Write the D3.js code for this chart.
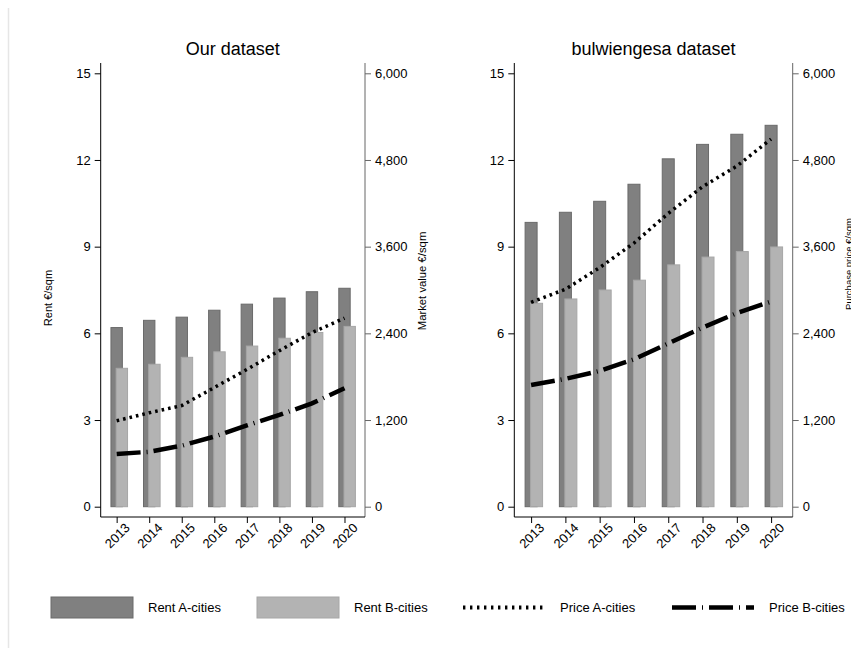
<!DOCTYPE html>
<html>
<head>
<meta charset="utf-8">
<script src="https://cdn.jsdelivr.net/npm/d3@7"></script>
<style>
  body { margin: 0; padding: 0; background: #fff; overflow: hidden; }
  text { font-family: "Liberation Sans", Arial, sans-serif; fill: #000; }
</style>
</head>
<body>
<script>
// data
const years = [2013, 2014, 2015, 2016, 2017, 2018, 2019, 2020];

const ourRentA = [6.20, 6.45, 6.56, 6.80, 7.01, 7.22, 7.44, 7.56];
const ourRentB = [4.79, 4.93, 5.17, 5.36, 5.56, 5.83, 6.03, 6.24];
const ourPriceA = [1190, 1300, 1400, 1650, 1900, 2160, 2410, 2610];
const ourPriceB = [730, 760, 845, 970, 1125, 1270, 1430, 1640];

const bwgRentA = [9.84, 10.19, 10.57, 11.16, 12.04, 12.54, 12.89, 13.20];
const bwgRentB = [7.04, 7.19, 7.50, 7.84, 8.37, 8.64, 8.83, 8.99];
const bwgPriceA = [2830, 3010, 3310, 3650, 4060, 4430, 4715, 5090];
const bwgPriceB = [1685, 1770, 1880, 2040, 2260, 2480, 2680, 2840];

const rentTicks = [0, 3, 6, 9, 12, 15];
const priceTicks = [0, 1200, 2400, 3600, 4800, 6000];

const legendLabels = ["Rent A-cities", "Rent B-cities", "Price A-cities", "Price B-cities"];

const W = 851, H = 648;
const colA = "#808080", colB = "#b3b3b3";
const dotDash = "2.6,4", dashDot = "24,6,1,6";

const svg = d3.select("body").append("svg").attr("width", W).attr("height", H);

svg.append("line").attr("x1", 8.5).attr("x2", 8.5).attr("y1", 8).attr("y2", H)
  .attr("stroke", "#e6e6e6").attr("stroke-width", 1.5);

const panels = [
  {title: "Our dataset", left: 100.7, right: 365, rentA: ourRentA, rentB: ourRentB,
   priceA: ourPriceA, priceB: ourPriceB, leftTitle: "Rent €/sqm",
   rightTitle: "Market value €/sqm", rtX: 426, rtY: 281, rtSize: 11.3},
  {title: "bulwiengesa dataset", left: 514.3, right: 792.7, rentA: bwgRentA, rentB: bwgRentB,
   priceA: bwgPriceA, priceB: bwgPriceB, leftTitle: null,
   rightTitle: "Purchase price €/sqm", rtX: 851.5, rtY: 264, rtSize: 9.5}
];

const yTop = 63, yBot = 517;
const yRent = d3.scaleLinear().domain([0, 15]).range([506.7, 73.3]);
const yPrice = d3.scaleLinear().domain([0, 6000]).range([506.7, 73.3]);

panels.forEach(p => {
  const x = d3.scaleLinear().domain([2012.51, 2020.63]).range([p.left, p.right]);
  const step = x(2014) - x(2013);
  const bw = 0.35 * step, off = 0.16 * step;
  const g = svg.append("g");

  // bars A then B (B overlaps)
  g.selectAll(".barA").data(years).join("rect")
    .attr("x", (d) => x(d) - bw / 2)
    .attr("y", (d, i) => yRent(p.rentA[i]))
    .attr("width", bw)
    .attr("height", (d, i) => yRent(0) - yRent(p.rentA[i]))
    .attr("fill", colA).attr("stroke", "#6a6a6a").attr("stroke-width", 1);

  g.selectAll(".barB").data(years).join("rect")
    .attr("x", (d) => x(d) - bw / 2 + off)
    .attr("y", (d, i) => yRent(p.rentB[i]))
    .attr("width", bw)
    .attr("height", (d, i) => yRent(0) - yRent(p.rentB[i]))
    .attr("fill", colB).attr("stroke", "#a6a6a6").attr("stroke-width", 1);

  const line = (vals) => d3.line().x((d) => x(d)).y((d, i) => yPrice(vals[i]))(years);

  g.append("path").attr("d", line(p.priceA)).attr("fill", "none")
    .attr("stroke", "#000").attr("stroke-width", 3.5).attr("stroke-dasharray", dotDash);
  g.append("path").attr("d", line(p.priceB)).attr("fill", "none")
    .attr("stroke", "#000").attr("stroke-width", 4.5).attr("stroke-dasharray", dashDot);

  // axes
  const la = g.append("g").attr("transform", `translate(${p.left},0)`)
    .call(d3.axisLeft(yRent).tickValues(rentTicks).tickSize(6).tickPadding(4));
  const ra = g.append("g").attr("transform", `translate(${p.right},0)`)
    .call(d3.axisRight(yPrice).tickValues(priceTicks).tickSize(6).tickPadding(4).tickFormat(d3.format(",")));
  const ba = g.append("g").attr("transform", `translate(0,${yBot})`)
    .call(d3.axisBottom(x).tickValues(years).tickSize(6).tickFormat(d3.format("d")));

  [la, ra, ba].forEach(a => {
    a.select(".domain").remove();
    a.attr("font-size", 13).attr("font-family", "'Liberation Sans', Arial, sans-serif");
  });
  la.selectAll("line").attr("stroke", "#000");
  ra.selectAll("line").attr("stroke", "#666");
  ba.selectAll("line").attr("stroke", "#000");
  ba.selectAll("text").attr("text-anchor", "end")
    .attr("transform", "translate(4,2) rotate(-45)").attr("dy", "0.35em").attr("y", 9).attr("x", 0);

  g.append("line").attr("x1", p.left).attr("x2", p.left).attr("y1", yTop).attr("y2", yBot).attr("stroke", "#000");
  g.append("line").attr("x1", p.right).attr("x2", p.right).attr("y1", yTop).attr("y2", yBot).attr("stroke", "#666");
  g.append("line").attr("x1", p.left).attr("x2", p.right).attr("y1", yBot).attr("y2", yBot).attr("stroke", "#000");

  g.append("text").attr("x", (p.left + p.right) / 2).attr("y", 55)
    .attr("text-anchor", "middle").style("font-size", "18px").text(p.title);

  if (p.leftTitle) {
    g.append("text").attr("transform", "translate(52,298) rotate(-90)")
      .attr("text-anchor", "middle").style("font-size", "11px").text(p.leftTitle);
  }
  g.append("text").attr("transform", `translate(${p.rtX},${p.rtY}) rotate(-90)`)
    .attr("text-anchor", "middle").style("font-size", p.rtSize + "px").text(p.rightTitle);
});

// legend
const lg = svg.append("g");
const keyX = [51, 257, 463, 672];
const keyW = 82, ly = 607.5;
legendLabels.forEach((lab, i) => {
  const kx = keyX[i];
  if (i < 2) {
    lg.append("rect").attr("x", kx).attr("y", 597).attr("width", keyW).attr("height", 21)
      .attr("fill", i === 0 ? colA : colB).attr("stroke", i === 0 ? "#6a6a6a" : "#a6a6a6");
  } else {
    lg.append("line").attr("x1", kx).attr("x2", kx + keyW).attr("y1", ly).attr("y2", ly)
      .attr("stroke", "#000")
      .attr("stroke-width", i === 2 ? 4 : 4.5)
      .attr("stroke-dasharray", i === 2 ? "2.4,4.6" : dashDot);
  }
  lg.append("text").attr("x", kx + 97).attr("y", ly).attr("dy", "0.35em")
    .style("font-size", "13px").text(lab);
});
</script>
</body>
</html>
